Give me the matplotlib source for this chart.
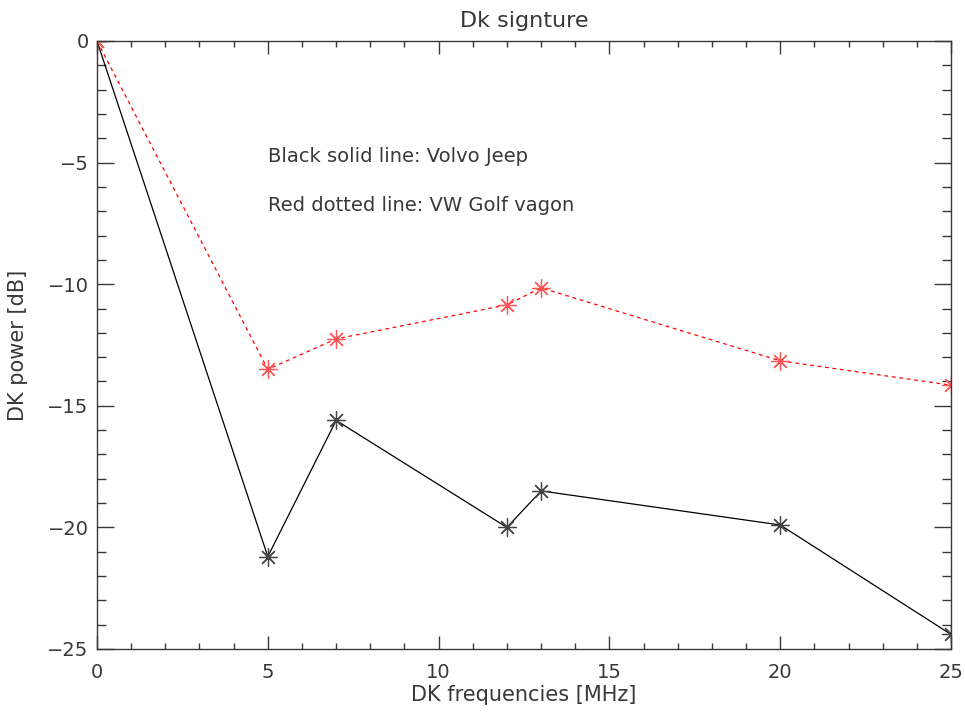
import matplotlib
matplotlib.use("Agg")
import matplotlib.pyplot as plt
from matplotlib.ticker import MultipleLocator

freqs = [0, 5, 7, 12, 13, 20, 25]
volvo = [0.0, -21.2, -15.6, -20.0, -18.5, -19.9, -24.4]
golf = [0.0, -13.5, -12.25, -10.85, -10.15, -13.15, -14.15]

title = "Dk signture"
xlabel = "DK frequencies [MHz]"
ylabel = "DK power [dB]"
note1 = "Black solid line: Volvo Jeep"
note2 = "Red dotted line: VW Golf vagon"

fg = "#383838"
plt.rcParams['font.family'] = ['DejaVu Sans']
plt.rcParams['font.size'] = 14

fig = plt.figure(figsize=(9.65, 7.13), dpi=100)
ax = fig.add_axes([97/965, 1-649/713, (951-97)/965, (649-41)/713])

mk = (8, 2, 0)
ax.plot(freqs, volvo, color='black', lw=0.9, marker=mk, ms=13, mew=0.9, mec='#444444')
ax.plot(freqs, golf, color='red', lw=0.9, ls=(0, (3, 3)), marker=mk, ms=13, mew=0.9,
        mec='#ff5555')

ax.set_xlim(0, 25)
ax.set_ylim(-25, 0)
ax.xaxis.set_major_locator(MultipleLocator(5))
ax.xaxis.set_minor_locator(MultipleLocator(1))
ax.yaxis.set_major_locator(MultipleLocator(5))
ax.yaxis.set_minor_locator(MultipleLocator(1))

ax.tick_params(axis='both', which='both', direction='in', top=True, right=True,
               color=fg, labelcolor=fg, width=1.0, labelsize=14)
ax.tick_params(axis='x', which='major', length=9.5, pad=10)
ax.tick_params(axis='x', which='minor', length=4.5)
ax.tick_params(axis='y', which='major', length=12.5, pad=6)
ax.tick_params(axis='y', which='minor', length=6.5)
for s in ax.spines.values():
    s.set_color(fg)
    s.set_linewidth(1.0)

ax.set_title(title, color=fg, fontsize=16, pad=10)
ax.set_xlabel(xlabel, color=fg, fontsize=15, labelpad=2)
ax.set_ylabel(ylabel, color=fg, fontsize=15, labelpad=14)

ax.text(268/965, 1-157/713, note1, transform=fig.transFigure, color=fg, fontsize=14, va='center', ha='left')
ax.text(268/965, 1-206/713, note2, transform=fig.transFigure, color=fg, fontsize=14, va='center', ha='left')

fig.savefig("out.png", dpi=100)
